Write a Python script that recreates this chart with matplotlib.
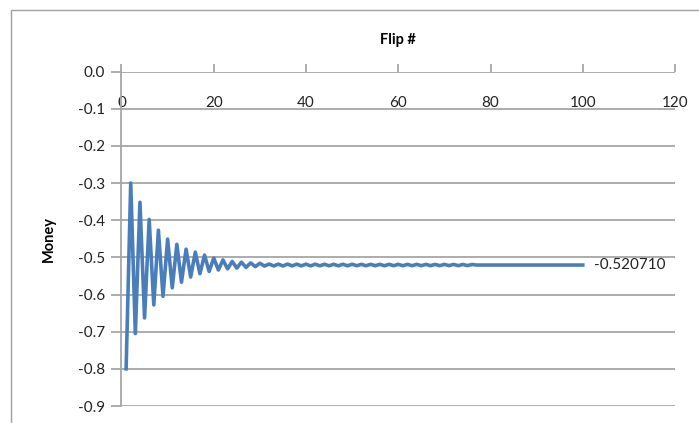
import matplotlib
matplotlib.use("Agg")
import matplotlib.pyplot as plt
from matplotlib.patches import Rectangle

plt.rcParams['font.family'] = ['Lato', 'DejaVu Sans']

flips = list(range(1, 101))
money = [
    -0.800, -0.300, -0.705, -0.352, -0.663, -0.398, -0.628, -0.427, -0.605, -0.451,
    -0.582, -0.465, -0.567, -0.478, -0.553, -0.486, -0.544, -0.494, -0.538, -0.502,
    -0.534, -0.507, -0.531, -0.511, -0.529, -0.513, -0.527, -0.515, -0.525, -0.516,
    -0.5235, -0.5180, -0.5232, -0.5182, -0.5232, -0.5182, -0.5230, -0.5184, -0.5230, -0.5184,
    -0.5230, -0.5184, -0.5228, -0.5186, -0.5228, -0.5186, -0.5228, -0.5186, -0.5228, -0.5186,
    -0.5226, -0.5188, -0.5226, -0.5188, -0.5226, -0.5188, -0.5226, -0.5188, -0.5225, -0.5189,
    -0.5225, -0.5189, -0.5225, -0.5189, -0.5224, -0.5190, -0.5224, -0.5190, -0.5224, -0.5190,
    -0.5223, -0.5191, -0.5223, -0.5191, -0.5222, -0.5192, -0.52071, -0.52071, -0.52071, -0.52071,
    -0.52071, -0.52071, -0.52071, -0.52071, -0.52071, -0.52071, -0.52071, -0.52071, -0.52071, -0.52071,
    -0.52071, -0.52071, -0.52071, -0.52071, -0.52071, -0.52071, -0.52071, -0.52071, -0.52071, -0.52071,
]
x_ticks = [0, 20, 40, 60, 80, 100, 120]
y_ticks = [0.0, -0.1, -0.2, -0.3, -0.4, -0.5, -0.6, -0.7, -0.8, -0.9]
end_label = "-0.520710"

W, H = 699, 423
fig = plt.figure(figsize=(W / 100, H / 100), dpi=100)
fig.patches.append(Rectangle((11 / W, -0.1), 1.2, (H - 10) / H + 0.1,
                             transform=fig.transFigure, fill=False,
                             edgecolor='#a0a0a0', linewidth=1.0))

left, right, top, bottom = 121.5, 675, 71.5, 406
ax = fig.add_axes([left / W, 1 - bottom / H, (right - left) / W, (bottom - top) / H])

grid_c = '#a6a6a6'
ax.set_xlim(0, 120)
ax.set_ylim(-0.9, 0.0)
ax.set_yticks(y_ticks)
ax.set_yticklabels([f"{v:.1f}" if v != 0 else "0.0" for v in y_ticks])
ax.set_xticks(x_ticks)
ax.set_xticklabels([str(v) for v in x_ticks])

for v in y_ticks:
    ax.axhline(v, color=grid_c, linewidth=1.3, zorder=1)

for s in ['right', 'bottom', 'top']:
    ax.spines[s].set_visible(False)
ax.spines['left'].set_color(grid_c)
ax.spines['left'].set_linewidth(1.3)

ax.xaxis.tick_top()
ax.tick_params(axis='x', which='major', direction='out', length=6, width=1.3,
               color=grid_c, top=True, bottom=False, labeltop=True,
               labelbottom=False, pad=-34, labelsize=11, labelcolor='#222222')
ax.tick_params(axis='y', direction='out', length=7, width=1.3, color=grid_c,
               labelsize=11, pad=5, labelcolor='#222222')

ax.plot(flips, money, color='#4a7ebb', linewidth=2.6, zorder=3,
        solid_joinstyle='round', clip_on=False)
ax.annotate(end_label, xy=(flips[-1], money[-1]), xytext=(8, 0),
            textcoords='offset points', va='center', ha='left',
            fontsize=11, color='#222222')

ax.set_title("Flip #", fontsize=10.5, fontweight='bold', pad=20)
ax.set_ylabel("Money", fontsize=10.5, fontweight='bold', labelpad=16)

fig.savefig("out.png", dpi=100)
